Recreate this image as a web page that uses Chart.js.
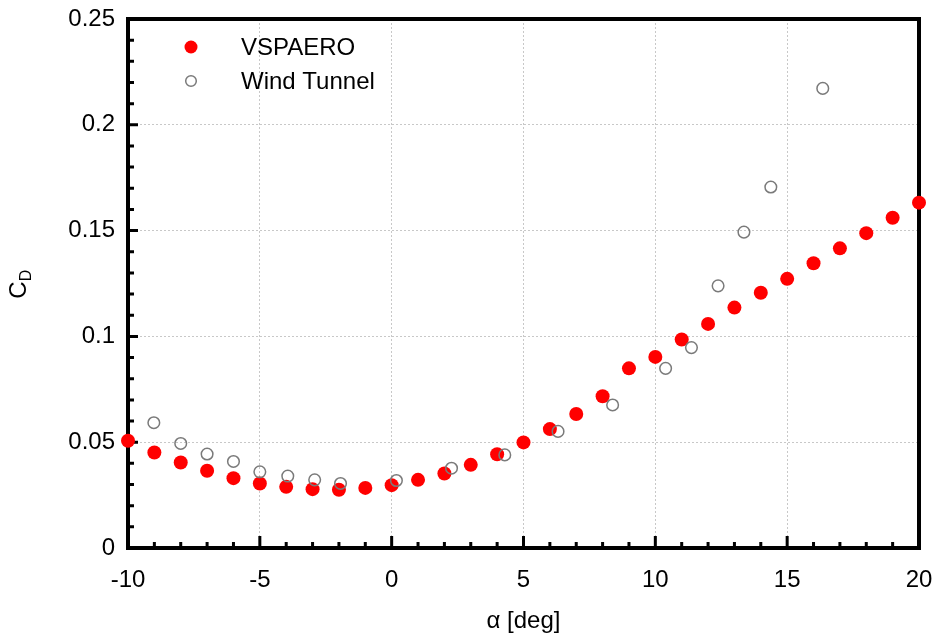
<!DOCTYPE html>
<html>
<head>
<meta charset="utf-8">
<script src="https://cdn.jsdelivr.net/npm/chart.js@4.4.0/dist/chart.umd.min.js"></script>
<style>
  html, body { margin: 0; padding: 0; background: #fff; }
</style>
</head>
<body>
<canvas id="cdChart" width="944" height="640"></canvas>
<script>
// VSPAERO results, one point per degree
const alphaVsp = [-10, -9, -8, -7, -6, -5, -4, -3, -2, -1, 0, 1, 2, 3, 4, 5, 6, 7, 8, 9, 10,
                  11, 12, 13, 14, 15, 16, 17, 18, 19, 20];
const cdVsp = [0.0507, 0.0451, 0.0404, 0.0365, 0.0330, 0.0305, 0.0289, 0.0278, 0.0275, 0.0284, 0.0297,
               0.0322, 0.0352, 0.0393, 0.0443, 0.0499, 0.0562, 0.0633, 0.0717, 0.0849, 0.0903,
               0.0985, 0.1059, 0.1136, 0.1206, 0.1272, 0.1346, 0.1416, 0.1488, 0.1561, 0.1632];

// wind tunnel measurements
const alphaWT = [-9.02, -8.0, -7.0, -6.0, -5.0, -3.94, -2.92, -1.94, 0.18, 2.27, 4.29,
                 6.31, 8.38, 10.39, 11.37, 12.38, 13.36, 14.38, 16.35];
const cdWT = [0.0592, 0.0494, 0.0444, 0.0409, 0.0360, 0.0340, 0.0322, 0.0305, 0.0319, 0.0377, 0.0440,
              0.0551, 0.0676, 0.0849, 0.0947, 0.1239, 0.1493, 0.1706, 0.2172];

const xTicks = [-10, -5, 0, 5, 10, 15, 20];
const yTicks = [0, 0.05, 0.1, 0.15, 0.2, 0.25];

const FONT = "'Liberation Sans', Arial, sans-serif";

function toPoints(xs, ys) {
    return xs.map((x, i) => ({ x: x, y: ys[i] }));
}

// frame box plus inward ticks (major and minor) on the left and bottom axes
const framePlugin = {
    id: "frame",
    beforeDatasetsDraw(chart) {
        const ctx = chart.ctx;
        const a = chart.chartArea;
        const xs = chart.scales.x;
        const ys = chart.scales.y;
        ctx.save();
        ctx.strokeStyle = "#000";
        ctx.lineWidth = 3;
        ctx.beginPath();
        for (let v = -10; v <= 20; v++) {
            const px = xs.getPixelForValue(v);
            const len = (v % 5 === 0) ? 12 : 6;
            ctx.moveTo(px, a.bottom);
            ctx.lineTo(px, a.bottom - len);
        }
        for (let i = 0; i <= 25; i++) {
            const py = ys.getPixelForValue(i / 100);
            const len = (i % 5 === 0) ? 10 : 6;
            ctx.moveTo(a.left, py);
            ctx.lineTo(a.left + len, py);
        }
        ctx.stroke();
        ctx.lineWidth = 4;
        ctx.strokeRect(a.left, a.top, a.right - a.left, a.bottom - a.top);
        ctx.restore();
    },
    afterDraw(chart) {
        const ctx = chart.ctx;
        ctx.save();
        // y axis title: C with subscript D
        ctx.translate(26, 284);
        ctx.rotate(-Math.PI / 2);
        ctx.fillStyle = "#000";
        ctx.textBaseline = "alphabetic";
        ctx.textAlign = "left";
        ctx.font = "24px " + FONT;
        const w = ctx.measureText("C").width;
        const total = w + 12;
        ctx.fillText("C", -total / 2, 0);
        ctx.font = "16px " + FONT;
        ctx.fillText("D", -total / 2 + w, 5);
        ctx.restore();

        // legend inside the plot, top left
        ctx.save();
        chart.data.datasets.forEach((ds, i) => {
            const cy = 47 + i * 34;
            ctx.beginPath();
            ctx.arc(191, cy, ds.legendRadius, 0, Math.PI * 2);
            if (ds.borderWidth > 0) {
                ctx.lineWidth = ds.borderWidth;
                ctx.strokeStyle = ds.borderColor;
                ctx.stroke();
            } else {
                ctx.fillStyle = ds.backgroundColor;
                ctx.fill();
            }
            ctx.fillStyle = "#000";
            ctx.font = "24px " + FONT;
            ctx.textBaseline = "middle";
            ctx.textAlign = "left";
            ctx.fillText(ds.label, 241, cy + 1);
        });
        ctx.restore();
    }
};

const ctx = document.getElementById("cdChart");

new Chart(ctx, {
    type: "scatter",
    data: {
        datasets: [
            {
                label: "VSPAERO",
                data: toPoints(alphaVsp, cdVsp),
                backgroundColor: "#ff0000",
                borderColor: "#ff0000",
                borderWidth: 0,
                pointRadius: 7,
                legendRadius: 6.5,
                order: 2
            },
            {
                label: "Wind Tunnel",
                data: toPoints(alphaWT, cdWT),
                backgroundColor: "rgba(0,0,0,0)",
                borderColor: "#7a7a7a",
                borderWidth: 1.5,
                pointRadius: 5.8,
                legendRadius: 5.3,
                order: 1
            }
        ]
    },
    options: {
        responsive: false,
        animation: false,
        clip: false,
        layout: { padding: { left: 0, right: 25, top: 19, bottom: 0 } },
        plugins: {
            legend: { display: false },
            tooltip: { enabled: false }
        },
        scales: {
            x: {
                type: "linear",
                min: -10,
                max: 20,
                afterBuildTicks: (scale) => { scale.ticks = xTicks.map(v => ({ value: v })); },
                afterFit: (scale) => {
                    scale.height = 92;
                    scale.paddingLeft = 0;
                    scale.paddingRight = 0;
                },
                ticks: {
                    color: "#000",
                    font: { family: FONT, size: 24 },
                    padding: 18,
                    maxRotation: 0
                },
                grid: { color: "#c8c8c8", lineWidth: 1, drawTicks: false },
                border: { display: false, dash: [2, 2] },
                title: {
                    display: true,
                    text: "α [deg]",
                    color: "#000",
                    font: { family: FONT, size: 24 },
                    padding: { top: 0, bottom: 4 }
                }
            },
            y: {
                type: "linear",
                min: 0,
                max: 0.25,
                afterBuildTicks: (scale) => { scale.ticks = yTicks.map(v => ({ value: v })); },
                afterFit: (scale) => {
                    scale.width = 128;
                    scale.paddingTop = 0;
                    scale.paddingBottom = 0;
                },
                ticks: {
                    color: "#000",
                    font: { family: FONT, size: 24 },
                    padding: 13,
                    callback: (v) => String(+Number(v).toFixed(2))
                },
                grid: { color: "#c8c8c8", lineWidth: 1, drawTicks: false },
                border: { display: false, dash: [2, 2] }
            }
        }
    },
    plugins: [framePlugin]
});
</script>
</body>
</html>
